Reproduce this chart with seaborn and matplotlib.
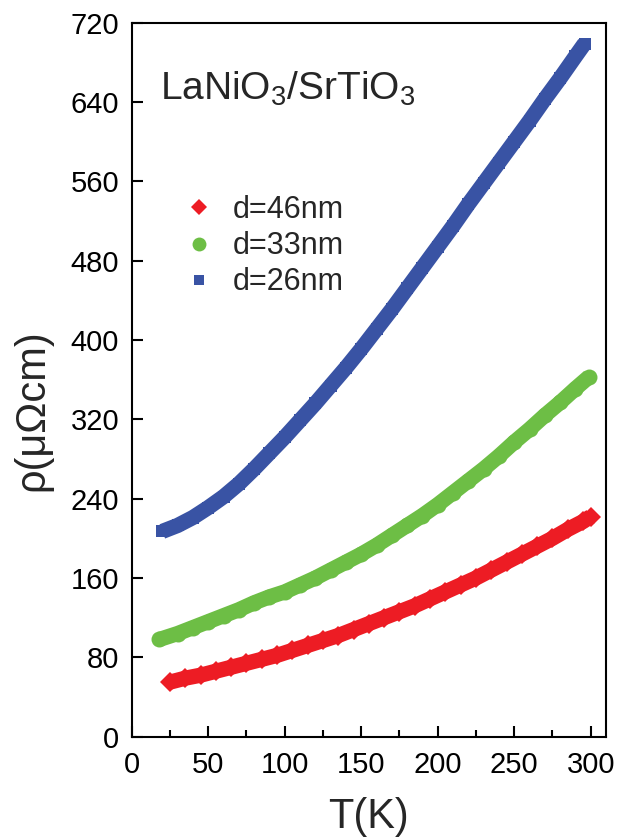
import matplotlib
matplotlib.use('Agg')
import matplotlib.pyplot as plt
from matplotlib.lines import Line2D
from matplotlib.ticker import MultipleLocator
import seaborn as sns
import pandas as pd

# values
t_46 = [25, 35, 45, 55, 65, 75, 85, 95, 105, 115, 125, 135, 145, 155, 165,
        175, 185, 195, 205, 215, 225, 235, 245, 255, 265, 275, 285, 295, 300]
rho_46 = [55, 59, 62, 66, 70, 74, 78, 82, 87, 92, 97, 102, 108, 114, 120,
          126, 132, 139, 146, 153, 160, 168, 176, 184, 192, 200, 209, 217, 222]

t_33 = [18, 30, 40, 50, 60, 70, 80, 90, 100, 110, 120, 130, 140, 150, 160,
        170, 180, 190, 200, 210, 220, 230, 240, 250, 260, 270, 280, 290, 299]
rho_33 = [98, 104, 110, 116, 122, 128, 135, 141, 146, 153, 160, 168, 176, 184, 193,
          203, 213, 223, 234, 246, 258, 270, 283, 297, 310, 324, 337, 351, 363]

t_26 = [20, 30, 40, 50, 60, 70, 80, 90, 100, 110, 120, 130, 140, 150, 160,
        170, 180, 190, 200, 210, 220, 230, 240, 250, 260, 270, 280, 290, 296]
rho_26 = [207, 213, 221, 231, 242, 255, 270, 286, 302, 319, 336, 354, 372, 391, 411,
          431, 452, 473, 494, 515, 537, 558, 579, 600, 621, 643, 664, 686, 699]

labels = ['d=46nm', 'd=33nm', 'd=26nm']
colors = ['#ED1C24', '#6DBE45', '#3953A4']
markers = ['D', 'o', 's']

sns.set_theme(style='ticks')
plt.rcParams['font.family'] = ['Liberation Sans', 'DejaVu Sans']
plt.rcParams['mathtext.fontset'] = 'custom'
plt.rcParams['mathtext.rm'] = 'Liberation Sans'

fig = plt.figure(figsize=(6.32, 8.4), dpi=100)
ax = fig.add_axes([0.2084, 0.123, 0.7505, 0.850])

series = [(t_46, rho_46), (t_33, rho_33), (t_26, rho_26)]
for (t, r), c, m, ms in zip(series, colors, markers, [10, 11.5, 9]):
    df = pd.DataFrame({'T': t, 'rho': r})
    sns.lineplot(data=df, x='T', y='rho', ax=ax, color=c, lw=11,
                 marker=m, ms=ms, mec=c, mew=0, solid_capstyle='butt')

ax.set_xlim(0, 310)
ax.set_ylim(0, 720)
ax.xaxis.set_major_locator(MultipleLocator(50))
ax.xaxis.set_minor_locator(MultipleLocator(25))
ax.yaxis.set_major_locator(MultipleLocator(80))
ax.tick_params(which='both', direction='in', width=1.5, labelsize=21,
               top=False, right=False, colors='black')
ax.tick_params(axis='x', which='major', length=8, pad=10)
ax.tick_params(axis='y', which='major', length=8, pad=9)
ax.tick_params(which='minor', length=5)
for s in ax.spines.values():
    s.set_linewidth(1.5)
    s.set_color('black')

ax.set_xlabel('T(K)', fontsize=30, labelpad=13)
ax.set_ylabel('ρ(μΩcm)', fontsize=30)
ax.yaxis.set_label_coords(-0.168, 0.4576)

ax.text(0.0597, 0.8917, r'LaNiO$_\mathregular{3}$/SrTiO$_\mathregular{3}$',
        transform=ax.transAxes, fontsize=28, ha='left', va='baseline')

handles = [Line2D([], [], ls='none', marker=m, color=c, ms=s, mew=0)
           for m, c, s in zip(markers, colors, [8.5, 10, 7])]
ax.legend(handles, labels, loc='upper left', bbox_to_anchor=(0.052, 0.797),
          frameon=False, fontsize=22, handlelength=1.0, handletextpad=0.6,
          labelspacing=0.2)

plt.savefig('out.png', dpi=100)
